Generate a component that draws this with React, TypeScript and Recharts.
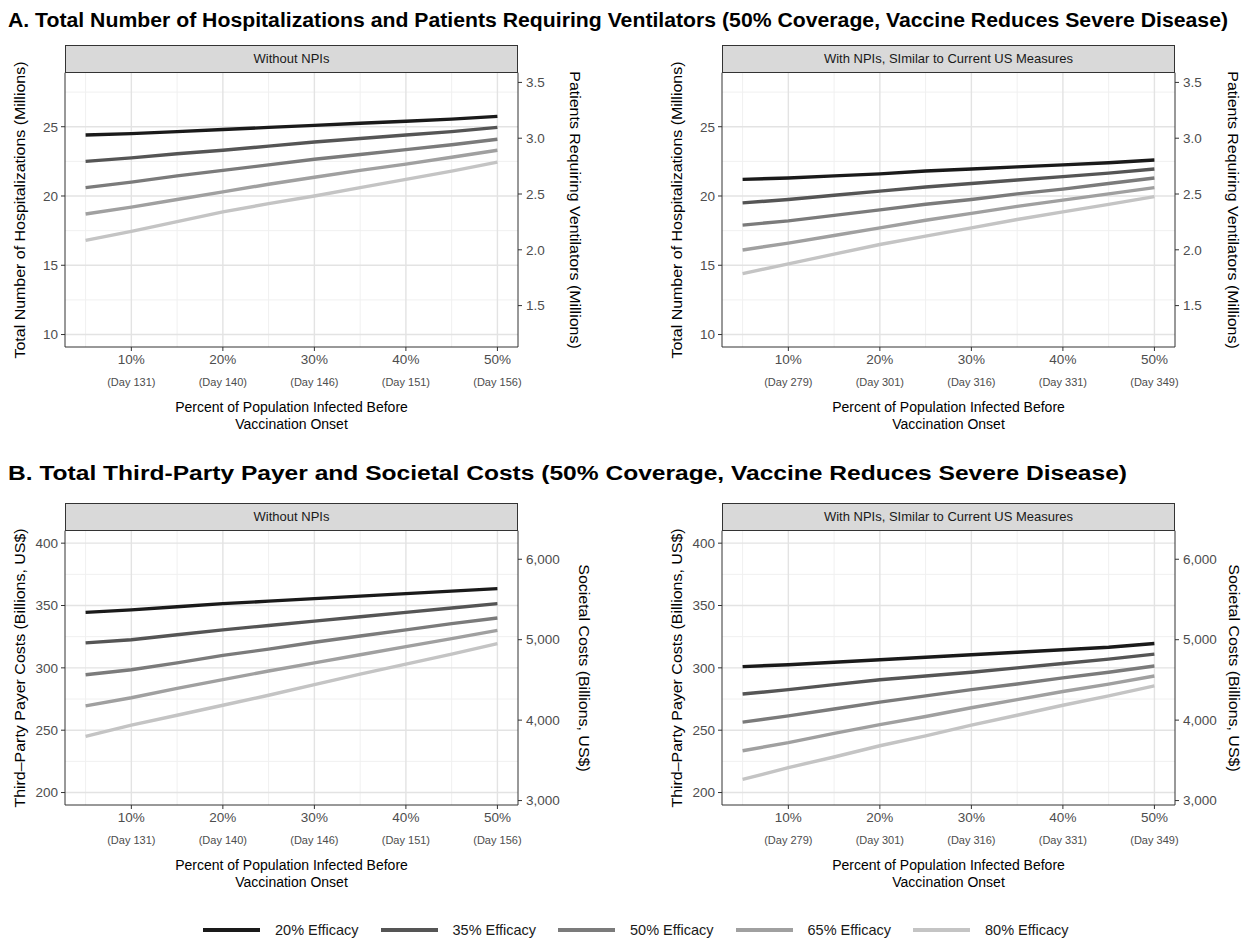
import React from 'react';
import { LineChart, Line, XAxis, YAxis, CartesianGrid } from 'recharts';

const pct = [5, 10, 15, 20, 25, 30, 35, 40, 45, 50];
const pctTicks = [10, 20, 30, 40, 50];
const pctMinor = [5, 15, 25, 35, 45];

const daysNoNpi = ['(Day 131)', '(Day 140)', '(Day 146)', '(Day 151)', '(Day 156)'];
const daysNpi = ['(Day 279)', '(Day 301)', '(Day 316)', '(Day 331)', '(Day 349)'];

const efficacy = ['20% Efficacy', '35% Efficacy', '50% Efficacy', '65% Efficacy', '80% Efficacy'];
const colors = ['#1a1a1a', '#555555', '#7b7b7b', '#a0a0a0', '#c4c4c4'];

// A. hospitalizations (millions)
const hospNoNpi = [
  [24.4, 24.5, 24.65, 24.8, 24.95, 25.1, 25.25, 25.4, 25.55, 25.75],
  [22.5, 22.75, 23.05, 23.3, 23.6, 23.9, 24.15, 24.4, 24.65, 24.95],
  [20.6, 21.0, 21.45, 21.85, 22.25, 22.65, 23.0, 23.35, 23.7, 24.1],
  [18.7, 19.2, 19.75, 20.3, 20.85, 21.35, 21.85, 22.3, 22.8, 23.3],
  [16.8, 17.45, 18.15, 18.85, 19.45, 20.0, 20.6, 21.2, 21.8, 22.45],
];
const hospNpi = [
  [21.2, 21.3, 21.45, 21.6, 21.8, 21.95, 22.1, 22.25, 22.4, 22.6],
  [19.5, 19.75, 20.05, 20.35, 20.65, 20.9, 21.15, 21.4, 21.65, 21.95],
  [17.9, 18.2, 18.6, 19.0, 19.4, 19.75, 20.15, 20.5, 20.9, 21.3],
  [16.1, 16.6, 17.15, 17.7, 18.25, 18.75, 19.25, 19.7, 20.15, 20.6],
  [14.4, 15.1, 15.8, 16.5, 17.1, 17.7, 18.3, 18.85, 19.4, 19.95],
];

// B. third-party payer costs (billions US$)
const costNoNpi = [
  [344.5, 346.5, 349, 351.5, 353.5, 355.5, 357.5, 359.5, 361.5, 363.5],
  [320, 322.5, 326.5, 330.5, 334, 337.5, 341, 344.5, 348, 351.5],
  [294.5, 298.5, 304, 310, 315, 320.5, 325.5, 330.5, 335.5, 340],
  [269.5, 276, 283.5, 290.5, 297.5, 304, 310.5, 317, 323.5, 330],
  [245, 254, 262, 270, 278, 286.5, 295, 303, 311, 319.5],
];
const costNpi = [
  [301, 302.5, 304.5, 306.5, 308.5, 310.5, 312.5, 314.5, 316.5, 319.5],
  [279, 282.5, 286.5, 290.5, 293.5, 296.5, 300, 303.5, 307, 311],
  [256.5, 261.5, 267, 272.5, 277.5, 282.5, 287, 292, 296.5, 301.5],
  [233.5, 240, 247.5, 254.5, 261, 268, 274.5, 281, 287, 293.5],
  [210.5, 220, 228.5, 237.5, 245.5, 254, 262, 270, 277.5, 285.5],
];

const hospTicks = [10, 15, 20, 25];
const hospMinor = [12.5, 17.5, 22.5, 27.5];
const ventTicks = [1.5, 2.0, 2.5, 3.0, 3.5];
const costTicks = [200, 250, 300, 350, 400];
const costMinor = [225, 275, 325, 375];
const societalTicks = [3000, 4000, 5000, 6000];

const font = '"Liberation Sans", Arial, Helvetica, sans-serif';

function buildRows(series: number[][]) {
  return pct.map((p, i) => {
    const row: Record<string, number> = { pct: p };
    series.forEach((s, k) => {
      row['e' + k] = s[i];
    });
    return row;
  });
}

const DayTick = (props: any) => {
  const { x, y, payload, index, days } = props;
  return (
    <g>
      <text x={x} y={y + 11} textAnchor="middle" fill="#4d4d4d" fontSize={13.5} fontFamily={font}>
        {payload.value}%
      </text>
      <text x={x} y={y + 33} textAnchor="middle" fill="#4d4d4d" fontSize={11} fontFamily={font}>
        {days[index]}
      </text>
    </g>
  );
};

interface PanelProps {
  left: number;
  top: number;
  strip: string;
  series: number[][];
  yDomain: [number, number];
  yTicks: number[];
  yMinor: number[];
  y2Domain: [number, number];
  y2Ticks: number[];
  y2Format: (v: number) => string;
  days: string[];
  yTitle: string;
  y2Title: string;
  y2TitleX: number;
}

const W = 623;
const H = 420;
const PL = 65;
const PR = 518;
const PT = 42.7;
const PB = 317;

function Panel(p: PanelProps) {
  const rows = buildRows(p.series);
  const tickStyle = { fill: '#4d4d4d', fontSize: 13.5, fontFamily: font };
  const vTitle = { position: 'absolute' as const, top: (PT + PB) / 2, whiteSpace: 'nowrap' as const, fontFamily: font, fontSize: 14.5, color: '#000' };
  return (
    <div style={{ position: 'absolute', left: p.left, top: p.top, width: W, height: H }}>
      <LineChart width={W} height={H} data={rows} margin={{ top: PT, right: 50, bottom: 43, left: 15 }}>
        <CartesianGrid verticalValues={pctMinor} horizontalValues={p.yMinor} stroke="#f0f0f0" strokeWidth={1} />
        <CartesianGrid verticalValues={pctTicks} horizontalValues={p.yTicks} stroke="#e3e3e3" strokeWidth={1.4} />
        <XAxis
          dataKey="pct"
          type="number"
          domain={[2.75, 52.25]}
          ticks={pctTicks}
          allowDataOverflow
          height={60}
          tickSize={4}
          tickMargin={2}
          stroke="#333"
          tick={<DayTick days={p.days} />}
        />
        <YAxis
          type="number"
          domain={p.yDomain}
          ticks={p.yTicks}
          allowDataOverflow
          width={50}
          tickSize={4}
          tickMargin={3}
          stroke="#333"
          tick={tickStyle}
        />
        <YAxis
          yAxisId="r"
          orientation="right"
          type="number"
          domain={p.y2Domain}
          ticks={p.y2Ticks}
          allowDataOverflow
          width={55}
          tickSize={4}
          tickMargin={4}
          stroke="#333"
          tick={{ ...tickStyle, textAnchor: 'start' }}
          tickFormatter={p.y2Format}
        />
        {efficacy.map((name, k) => (
          <Line
            key={name}
            dataKey={'e' + k}
            name={name}
            type="linear"
            stroke={colors[k]}
            strokeWidth={3.4}
            dot={false}
            strokeLinecap="butt"
            isAnimationActive={false}
          />
        ))}
      </LineChart>
      <div
        style={{
          position: 'absolute', left: PL, top: 14.5, width: PR - PL, height: PT - 14.5 + 0.5,
          boxSizing: 'border-box', border: '1px solid #333', background: '#d9d9d9',
          display: 'flex', alignItems: 'center', justifyContent: 'center',
          fontFamily: font, fontSize: 13, color: '#1a1a1a',
        }}
      >
        {p.strip}
      </div>
      <div style={{ ...vTitle, left: 20, transform: 'translate(-50%, -50%) rotate(-90deg) scaleX(1.1)' }}>
        {p.yTitle}
      </div>
      <div style={{ ...vTitle, left: p.y2TitleX, transform: 'translate(-50%, -50%) rotate(90deg) scaleX(1.1)' }}>
        {p.y2Title}
      </div>
      <div style={{ position: 'absolute', left: (PL + PR) / 2, top: PB + 52, transform: 'translateX(-50%)', textAlign: 'center', whiteSpace: 'nowrap', fontFamily: font, fontSize: 14, lineHeight: '17px', color: '#000' }}>
        Percent of Population Infected Before
        <br />
        Vaccination Onset
      </div>
    </div>
  );
}

const fmtVent = (v: number) => v.toFixed(1);
const fmtSoc = (v: number) => v.toLocaleString('en-US');

const titleA = 'A. Total Number of Hospitalizations and Patients Requiring Ventilators (50% Coverage, Vaccine Reduces Severe Disease)';
const titleB = 'B. Total Third-Party Payer and Societal Costs (50% Coverage, Vaccine Reduces Severe Disease)';

export default function App() {
  const hospDomain: [number, number] = [9.1, 28.9];
  const ventDomain: [number, number] = [1.129, 3.587];
  const costDomain: [number, number] = [190, 410];
  const socDomain: [number, number] = [2945, 6355];
  return (
    <div style={{ position: 'absolute', left: 0, top: 0, width: 1246, height: 940, overflow: 'hidden', background: '#fff' }}>
      <svg width={1246} height={940} style={{ position: 'absolute', left: 0, top: 0 }}>
        <text x={8} y={27} fontFamily={font} fontWeight="bold" fontSize={20} textLength={1220} lengthAdjust="spacingAndGlyphs" fill="#000">
          {titleA}
        </text>
        <text x={8} y={480} fontFamily={font} fontWeight="bold" fontSize={20} textLength={1119} lengthAdjust="spacingAndGlyphs" fill="#000">
          {titleB}
        </text>
      </svg>
      <Panel
        left={0} top={30} strip="Without NPIs" series={hospNoNpi}
        yDomain={hospDomain} yTicks={hospTicks} yMinor={hospMinor}
        y2Domain={ventDomain} y2Ticks={ventTicks} y2Format={fmtVent}
        days={daysNoNpi}
        yTitle="Total Number of Hospitalizations (Millions)"
        y2Title="Patients Requiring Ventilators (Millions)" y2TitleX={575}
      />
      <Panel
        left={657} top={30} strip="With NPIs, SImilar to Current US Measures" series={hospNpi}
        yDomain={hospDomain} yTicks={hospTicks} yMinor={hospMinor}
        y2Domain={ventDomain} y2Ticks={ventTicks} y2Format={fmtVent}
        days={daysNpi}
        yTitle="Total Number of Hospitalizations (Millions)"
        y2Title="Patients Requiring Ventilators (Millions)" y2TitleX={576}
      />
      <Panel
        left={0} top={488} strip="Without NPIs" series={costNoNpi}
        yDomain={costDomain} yTicks={costTicks} yMinor={costMinor}
        y2Domain={socDomain} y2Ticks={societalTicks} y2Format={fmtSoc}
        days={daysNoNpi}
        yTitle="Third–Party Payer Costs (Billions, US$)"
        y2Title="Societal Costs (Billions, US$)" y2TitleX={584}
      />
      <Panel
        left={657} top={488} strip="With NPIs, SImilar to Current US Measures" series={costNpi}
        yDomain={costDomain} yTicks={costTicks} yMinor={costMinor}
        y2Domain={socDomain} y2Ticks={societalTicks} y2Format={fmtSoc}
        days={daysNpi}
        yTitle="Third–Party Payer Costs (Billions, US$)"
        y2Title="Societal Costs (Billions, US$)" y2TitleX={577}
      />
      <div style={{ position: 'absolute', left: 203, top: 920, display: 'flex', fontFamily: font, fontSize: 14.5, color: '#1a1a1a' }}>
        {efficacy.map((name, k) => (
          <div key={name} style={{ width: 177.5, display: 'flex', alignItems: 'center' }}>
            <svg width={57} height={20} style={{ marginRight: 15 }}>
              <line x1={0} x2={57} y1={10} y2={10} stroke={colors[k]} strokeWidth={4} />
            </svg>
            <span>{name}</span>
          </div>
        ))}
      </div>
    </div>
  );
}
